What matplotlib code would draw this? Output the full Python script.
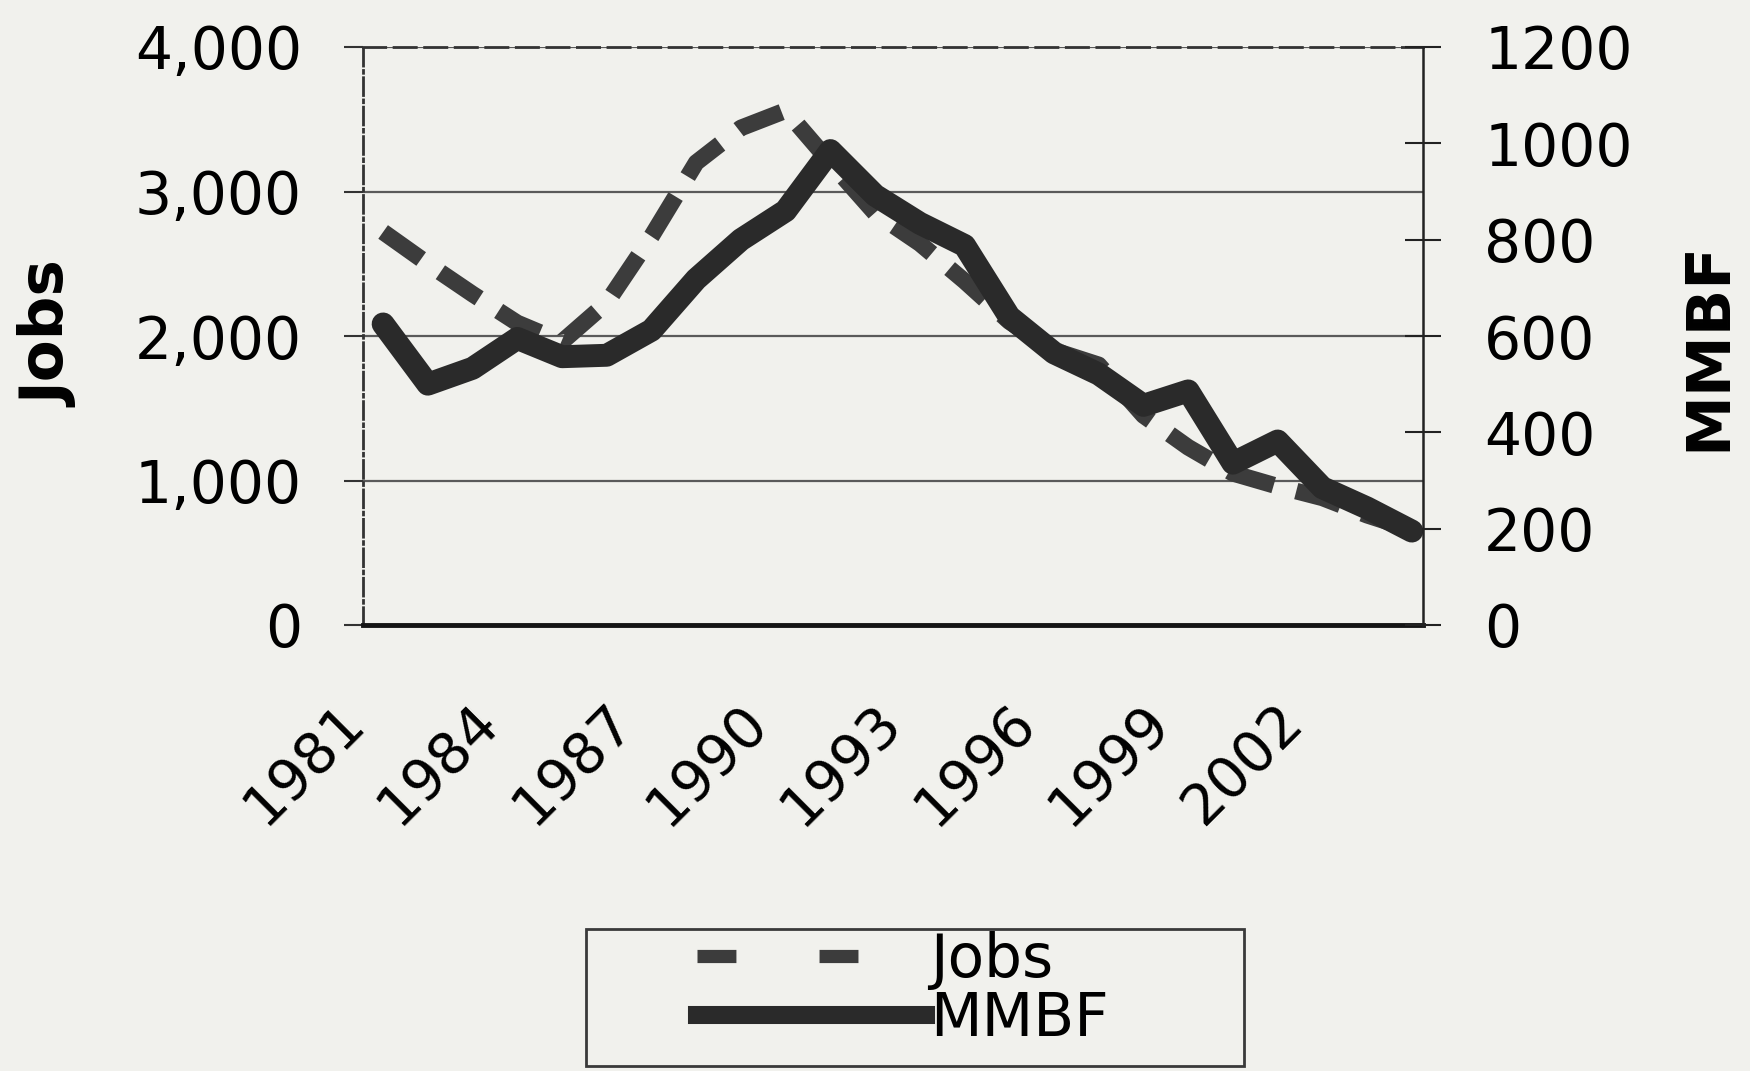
import numpy as np
import matplotlib.pyplot as plt
import matplotlib.transforms as mtrans
from matplotlib.lines import Line2D
from matplotlib.patches import Rectangle
from matplotlib.ticker import StrMethodFormatter

# data
years = list(range(1981, 2005))
jobs = [2720, 2500, 2290, 2090, 1960, 2230, 2690, 3200, 3440, 3560, 3200, 2850,
        2640, 2380, 2100, 1900, 1800, 1450, 1230, 1050, 960, 880, 760, 660]
mmbf = [625, 500, 533, 595, 557, 560, 612, 718, 800, 860, 985, 892,
        834, 788, 640, 565, 521, 456, 486, 336, 382, 285, 243, 195]
label_years = years[::3]
jobs_ticks = [0, 1000, 2000, 3000, 4000]
mmbf_ticks = [0, 200, 400, 600, 800, 1000, 1200]

W, H = 1750, 1071
bg = '#f1f1ed'
plt.rcParams['font.family'] = ['DejaVu Sans']

fig = plt.figure(figsize=(W / 100, H / 100), dpi=100, facecolor=bg)
ax = fig.add_axes([363 / W, 1 - 625 / H, 1060 / W, 578 / H], facecolor=bg)
ax2 = ax.twinx()

x = np.arange(len(years))
ax.plot(x, jobs, color='#3c3c3c', lw=12, dashes=(2.8, 1.4), zorder=3)
ax2.plot(x, mmbf, color='#2a2a2a', lw=16.5, solid_joinstyle='round',
         solid_capstyle='round')

ax.set_xlim(-0.45, 23.25)
ax.set_ylim(0, 4000)
ax2.set_ylim(0, 1200)

# gridlines and frame
ax.set_yticks(jobs_ticks)
ax.yaxis.set_major_formatter(StrMethodFormatter('{x:,.0f}'))
ax.yaxis.grid(True, color='#5a5a5a', lw=1.6)
ax.set_axisbelow(True)
ax.spines['top'].set(linestyle=(0, (8, 3)), lw=2, color='#333333')
ax.spines['left'].set(linestyle='-.', lw=2, color='#333333')
ax.spines['bottom'].set(lw=3.5, color='#151515')
ax.spines['right'].set_visible(False)
for s in ['top', 'left', 'bottom']:
    ax2.spines[s].set_visible(False)
ax2.spines['right'].set(lw=1.8, color='#222222')

ax.tick_params(axis='y', direction='out', length=14, width=1.5, pad=30,
               labelsize=42, color='#333333')
ax2.set_yticks(mmbf_ticks)
ax2.tick_params(axis='y', direction='inout', length=26, width=1.5, pad=31,
                labelsize=42, color='#222222')

ax.set_xticks(x[::3])
ax.set_xticklabels(label_years, rotation=45, ha='right', va='top',
                   rotation_mode='anchor')
ax.tick_params(axis='x', length=0, pad=50, labelsize=41)
shift = mtrans.ScaledTranslation(-46 / 100, 0, fig.dpi_scale_trans)
for lab in ax.get_xticklabels():
    lab.set_transform(lab.get_transform() + shift)

fig.text(50 / W, 1 - 335 / H, 'Jobs', rotation=90, ha='center', va='center',
         fontsize=44, fontweight='bold')
fig.text(1709 / W, 1 - 346 / H, 'MMBF', rotation=90, ha='center', va='center',
         fontsize=44, fontweight='bold')

# legend below the plot
jobs_handle = Line2D([], [], color='#3c3c3c', lw=9.5, dashes=(2.95, 6.3))
mmbf_handle = Line2D([], [], color='#2a2a2a', lw=13)
fig.legend([jobs_handle, mmbf_handle], ['Jobs', 'MMBF'], loc='upper left',
           bbox_to_anchor=(697 / W, 1 - 931 / H), frameon=False, fontsize=43,
           handlelength=3.83, handletextpad=0.07, labelspacing=0.0,
           borderpad=0, borderaxespad=0)
fig.add_artist(Rectangle((586 / W, 1 - 1066 / H), 658 / W, 137 / H,
                         transform=fig.transFigure, fill=False,
                         ec='#3a3a3a', lw=2))

fig.savefig('out.png', dpi=100, facecolor=bg)
